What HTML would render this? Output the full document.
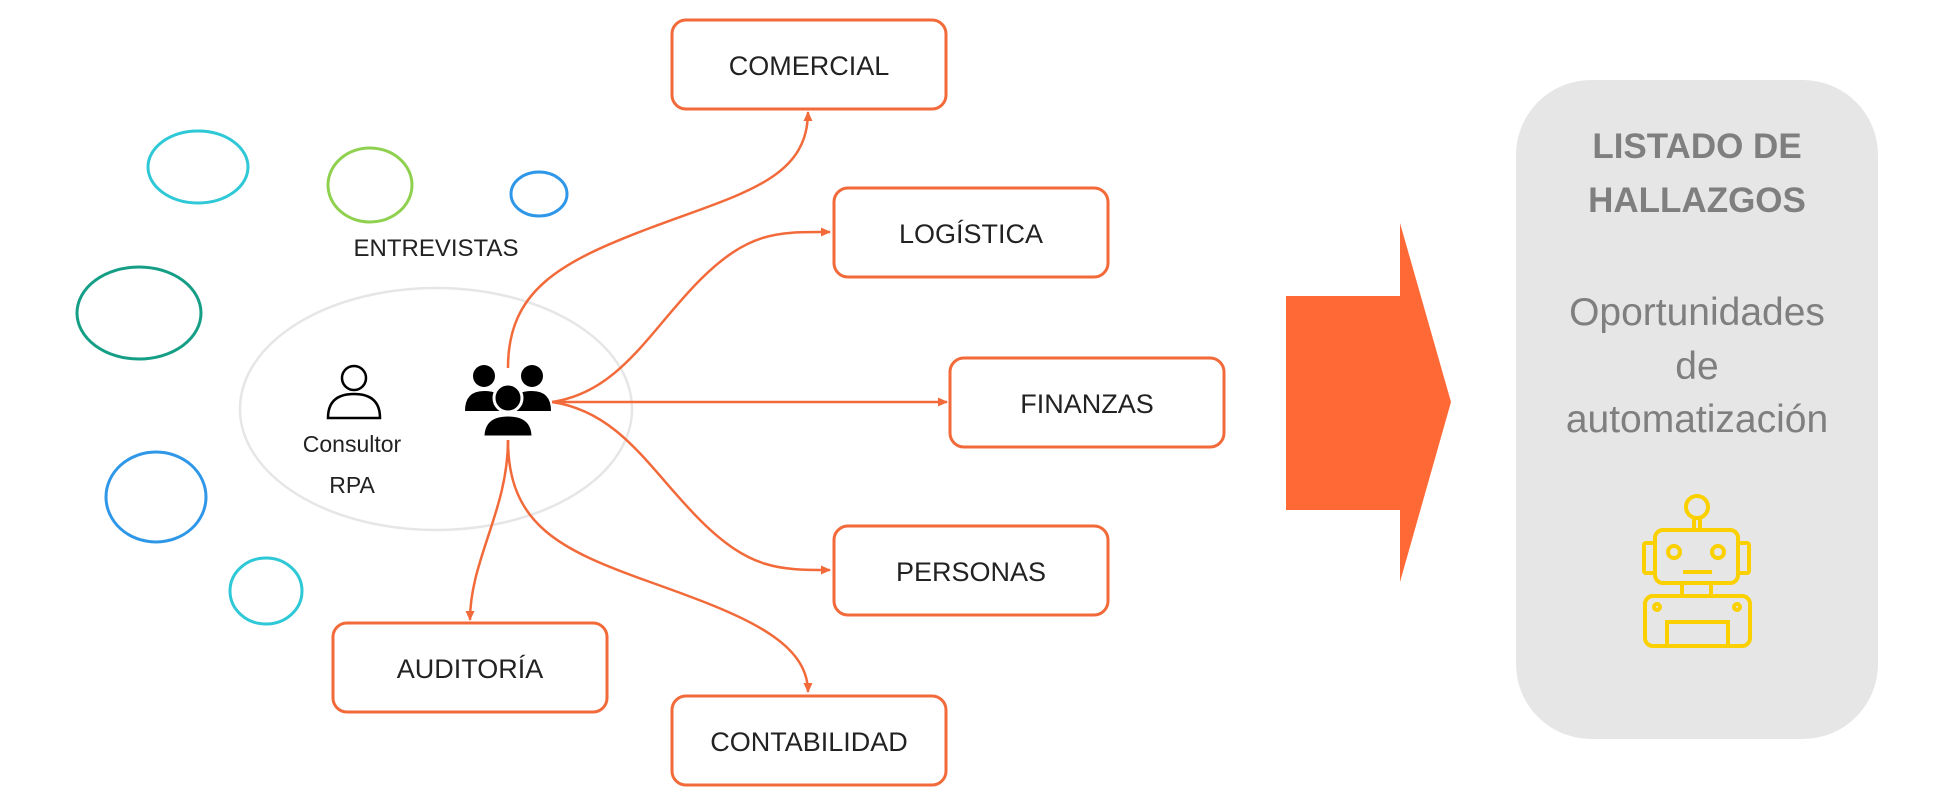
<!DOCTYPE html>
<html><head><meta charset="utf-8"><style>
html,body{margin:0;padding:0;background:#fff;width:1942px;height:804px;overflow:hidden}
svg{display:block}
text{font-family:"Liberation Sans",sans-serif}
</style></head><body>
<svg width="1942" height="804" viewBox="0 0 1942 804" xmlns="http://www.w3.org/2000/svg">
<defs>
<marker id="ah" markerWidth="10" markerHeight="9" refX="9" refY="4.5" orient="auto" markerUnits="userSpaceOnUse">
<path d="M0,0 L10,4.5 L0,9 Z" fill="#f26a3a"/></marker>
</defs>
<g fill="none" stroke-width="3">
<ellipse cx="198" cy="167" rx="50" ry="36" stroke="#2ec8d6"/>
<ellipse cx="370" cy="185" rx="42" ry="37" stroke="#8fd14f"/>
<ellipse cx="539" cy="194" rx="28" ry="22" stroke="#2f97e8"/>
<ellipse cx="139" cy="313" rx="62" ry="46" stroke="#159e86"/>
<ellipse cx="156" cy="497" rx="50" ry="45" stroke="#2f97e8"/>
<ellipse cx="266" cy="591" rx="36" ry="33" stroke="#2ec8d6"/>
</g>
<ellipse cx="436" cy="409" rx="196" ry="121" fill="none" stroke="#e6e6e6" stroke-width="2.5"/>
<text x="436" y="256" font-size="24" text-anchor="middle" fill="#222">ENTREVISTAS</text>
<circle cx="354" cy="378" r="12" fill="none" stroke="#000" stroke-width="2.5"/>
<path d="M328,418 Q328,394 354,394 Q380,394 380,418 Z" fill="none" stroke="#000" stroke-width="2.5"/>
<text x="352" y="452" font-size="23" text-anchor="middle" fill="#222">Consultor</text>
<text x="352" y="493" font-size="23" text-anchor="middle" fill="#222">RPA</text>
<g fill="none" stroke="#f26a3a" stroke-width="2.5" marker-end="url(#ah)">
<path d="M508,368 C508,290 560,262 650,228 S808,180 808,112"/>
<path d="M552,402 C620,392 650,330 700,280 S780,232 830,232"/>
<path d="M552,402 L947,402"/>
<path d="M552,402 C620,412 650,470 700,520 S780,570 830,570"/>
<path d="M508,440 C508,510 470,560 470,620"/>
<path d="M508,440 C508,525 560,550 650,582 S808,640 808,692"/>
</g>
<g fill="#000">
<circle cx="484" cy="376" r="11"/><circle cx="532" cy="376" r="11"/>
<path d="M465,411 Q465,391 484,391 Q500,391 503,400 L503,411 Z"/>
<path d="M551,411 Q551,391 532,391 Q516,391 513,400 L513,411 Z"/>
<circle cx="508" cy="398" r="14" stroke="#fff" stroke-width="3"/>
<path d="M483,437 Q483,415 508,415 Q533,415 533,437 Z" stroke="#fff" stroke-width="3"/>
</g>
<g fill="#fff" stroke="#f26a3a" stroke-width="3">
<rect x="672" y="20" width="274" height="89" rx="14"/>
<rect x="834" y="188" width="274" height="89" rx="14"/>
<rect x="950" y="358" width="274" height="89" rx="14"/>
<rect x="834" y="526" width="274" height="89" rx="14"/>
<rect x="333" y="623" width="274" height="89" rx="14"/>
<rect x="672" y="696" width="274" height="89" rx="14"/>
</g>
<g font-size="27" text-anchor="middle" fill="#222">
<text x="809" y="75">COMERCIAL</text>
<text x="971" y="243">LOGÍSTICA</text>
<text x="1087" y="413">FINANZAS</text>
<text x="971" y="581">PERSONAS</text>
<text x="470" y="678">AUDITORÍA</text>
<text x="809" y="751">CONTABILIDAD</text>
</g>
<path d="M1286,296 L1400,296 L1400,223 L1451,402 L1400,582 L1400,510 L1286,510 Z" fill="#ff6935"/>
<rect x="1516" y="80" width="362" height="659" rx="75" fill="#e6e6e6"/>
<g text-anchor="middle" fill="#7f7f7f">
<text x="1697" y="158" font-size="35" font-weight="bold">LISTADO DE</text>
<text x="1697" y="212" font-size="35" font-weight="bold">HALLAZGOS</text>
<text x="1697" y="325" font-size="39">Oportunidades</text>
<text x="1697" y="379" font-size="39">de</text>
<text x="1697" y="432" font-size="39">automatización</text>
</g>
<g fill="none" stroke="#fbd000" stroke-width="4">
<circle cx="1697" cy="507" r="11"/>
<line x1="1694" y1="518" x2="1694" y2="530"/><line x1="1700" y1="518" x2="1700" y2="530"/>
<rect x="1655" y="530" width="83" height="53" rx="8"/>
<rect x="1644" y="543" width="11" height="30" rx="2"/>
<rect x="1738" y="543" width="11" height="30" rx="2"/>
<circle cx="1674" cy="552" r="6"/><circle cx="1718" cy="552" r="6"/>
<line x1="1683" y1="572" x2="1712" y2="572"/>
<line x1="1682" y1="583" x2="1682" y2="596"/><line x1="1711" y1="583" x2="1711" y2="596"/>
<rect x="1645" y="596" width="105" height="50" rx="8"/>
<circle cx="1657" cy="607" r="3"/><circle cx="1737" cy="607" r="3"/>
<rect x="1667" y="622" width="61" height="24"/>
</g>
</svg>
</body></html>
